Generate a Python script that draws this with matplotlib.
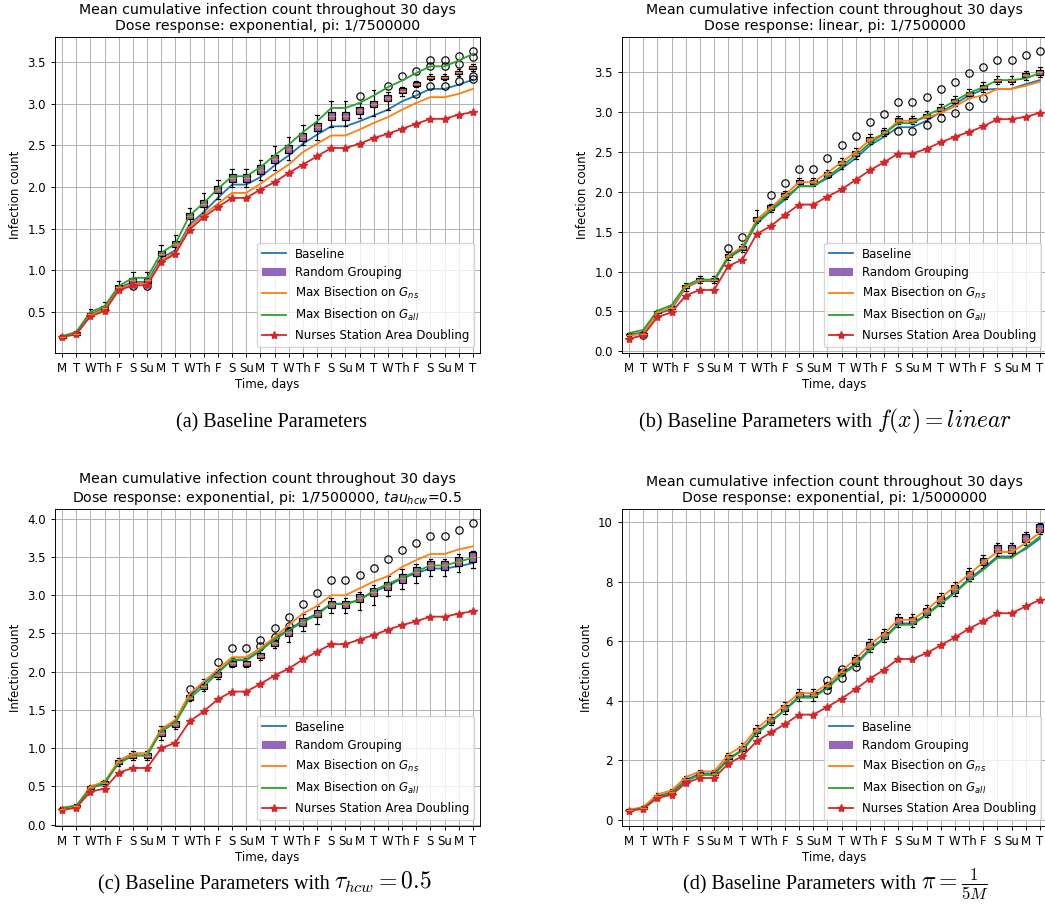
import matplotlib
matplotlib.use("Agg")
import matplotlib.pyplot as plt
from matplotlib.patches import Patch
from matplotlib.lines import Line2D
from matplotlib.font_manager import FontProperties

# x axis: 30 days
day_labels = ["M", "T", "W", "Th", "F", "S", "Su"] * 4 + ["M", "T"]
days = list(range(1, 31))

# ---- panel (a): exponential, pi 1/7500000
a_base = [0.20, 0.25, 0.47, 0.55, 0.79, 0.86, 0.86, 1.15, 1.24, 1.55, 1.70, 1.87, 2.03, 2.03, 2.12,
          2.26, 2.38, 2.52, 2.63, 2.73, 2.73, 2.79, 2.86, 2.93, 3.03, 3.10, 3.18, 3.18, 3.23, 3.29]
a_ns = [0.20, 0.24, 0.46, 0.53, 0.77, 0.84, 0.84, 1.12, 1.22, 1.52, 1.67, 1.80, 1.93, 1.93, 2.04,
        2.16, 2.27, 2.42, 2.52, 2.62, 2.62, 2.69, 2.77, 2.84, 2.93, 3.01, 3.08, 3.08, 3.12, 3.18]
a_all = [0.21, 0.26, 0.50, 0.57, 0.81, 0.91, 0.91, 1.21, 1.32, 1.66, 1.81, 1.98, 2.13, 2.13, 2.24,
         2.38, 2.51, 2.66, 2.79, 2.95, 2.95, 3.01, 3.10, 3.20, 3.28, 3.37, 3.45, 3.45, 3.52, 3.60]
a_nurse = [0.20, 0.23, 0.45, 0.51, 0.76, 0.82, 0.82, 1.10, 1.20, 1.49, 1.64, 1.76, 1.87, 1.87, 1.97,
           2.06, 2.17, 2.27, 2.37, 2.47, 2.47, 2.52, 2.59, 2.64, 2.70, 2.76, 2.82, 2.82, 2.87, 2.90]
a_med = [0.20, 0.24, 0.47, 0.55, 0.80, 0.88, 0.88, 1.20, 1.32, 1.65, 1.80, 1.97, 2.11, 2.11, 2.21,
         2.34, 2.46, 2.60, 2.72, 2.85, 2.85, 2.92, 3.00, 3.07, 3.16, 3.24, 3.32, 3.32, 3.38, 3.44]
a_box = [0.01, 0.015, 0.02, 0.02, 0.03, 0.03, 0.03, 0.03, 0.035, 0.035, 0.04, 0.04, 0.05, 0.05, 0.05,
         0.05, 0.05, 0.05, 0.05, 0.05, 0.05, 0.04, 0.04, 0.035, 0.03, 0.025, 0.02, 0.02, 0.02, 0.02]
a_wlo = [0.18, 0.21, 0.44, 0.50, 0.74, 0.84, 0.84, 1.12, 1.24, 1.55, 1.69, 1.86, 2.00, 2.00, 2.09,
         2.20, 2.32, 2.50, 2.56, 2.72, 2.73, 2.83, 2.85, 2.93, 3.09, 3.20, 3.29, 3.29, 3.34, 3.40]
a_whi = [0.22, 0.27, 0.54, 0.62, 0.87, 0.98, 0.98, 1.30, 1.42, 1.75, 1.93, 2.08, 2.22, 2.22, 2.33,
         2.49, 2.60, 2.75, 2.87, 3.03, 3.03, 3.01, 3.17, 3.14, 3.20, 3.28, 3.36, 3.36, 3.42, 3.48]
a_fliers = {5: [0.81], 6: [0.81], 21: [3.10], 23: [3.22], 24: [3.34], 25: [3.40, 3.12],
            26: [3.53, 3.46, 3.22], 27: [3.53, 3.46, 3.22], 28: [3.58, 3.48, 3.27],
            29: [3.63, 3.56, 3.33, 3.30]}

# ---- panel (b): linear, pi 1/7500000
b_base = [0.21, 0.24, 0.47, 0.53, 0.80, 0.88, 0.88, 1.17, 1.28, 1.60, 1.76, 1.90, 2.07, 2.07, 2.17,
          2.29, 2.42, 2.58, 2.69, 2.81, 2.81, 2.89, 3.00, 3.10, 3.21, 3.28, 3.29, 3.29, 3.35, 3.40]
b_ns = [0.20, 0.22, 0.49, 0.55, 0.81, 0.89, 0.89, 1.20, 1.31, 1.65, 1.80, 1.96, 2.12, 2.12, 2.24,
        2.37, 2.50, 2.65, 2.73, 2.89, 2.89, 2.93, 2.99, 3.07, 3.17, 3.21, 3.29, 3.29, 3.33, 3.38]
b_all = [0.23, 0.27, 0.51, 0.58, 0.83, 0.90, 0.90, 1.18, 1.29, 1.62, 1.77, 1.93, 2.07, 2.07, 2.19,
         2.32, 2.46, 2.61, 2.73, 2.86, 2.86, 2.96, 3.04, 3.14, 3.24, 3.31, 3.40, 3.40, 3.42, 3.49]
b_nurse = [0.16, 0.20, 0.43, 0.49, 0.70, 0.77, 0.77, 1.07, 1.15, 1.47, 1.57, 1.71, 1.84, 1.84, 1.94,
           2.03, 2.15, 2.27, 2.37, 2.48, 2.48, 2.54, 2.62, 2.69, 2.75, 2.82, 2.91, 2.91, 2.94, 2.99]
b_med = [0.21, 0.22, 0.49, 0.55, 0.81, 0.90, 0.90, 1.20, 1.30, 1.66, 1.80, 1.96, 2.12, 2.12, 2.22,
         2.36, 2.48, 2.66, 2.75, 2.90, 2.90, 2.95, 3.04, 3.14, 3.23, 3.31, 3.40, 3.40, 3.46, 3.50]
b_box = [0.01, 0.01, 0.015, 0.015, 0.02, 0.02, 0.02, 0.02, 0.025, 0.03, 0.03, 0.03, 0.025, 0.025, 0.03,
         0.03, 0.03, 0.03, 0.025, 0.025, 0.025, 0.025, 0.025, 0.025, 0.025, 0.025, 0.02, 0.02, 0.025, 0.03]
b_wlo = [0.19, 0.21, 0.46, 0.52, 0.76, 0.86, 0.86, 1.15, 1.25, 1.61, 1.75, 1.91, 2.07, 2.07, 2.17,
         2.29, 2.41, 2.60, 2.70, 2.85, 2.85, 2.89, 2.98, 3.08, 3.17, 3.25, 3.35, 3.35, 3.40, 3.44]
b_whi = [0.23, 0.24, 0.52, 0.58, 0.86, 0.95, 0.95, 1.25, 1.35, 1.77, 1.85, 2.01, 2.17, 2.17, 2.27,
         2.43, 2.55, 2.72, 2.80, 2.95, 2.95, 3.01, 3.10, 3.20, 3.29, 3.37, 3.45, 3.45, 3.52, 3.56]
b_fliers = {1: [0.20], 7: [1.30], 8: [1.43], 10: [1.96], 11: [2.11], 12: [2.29], 13: [2.29],
            14: [2.42], 15: [2.59], 16: [2.70], 17: [2.87], 18: [2.98], 19: [3.13, 2.76],
            20: [3.13, 2.76], 21: [3.19, 2.84], 22: [3.29, 2.92], 23: [3.38, 2.99],
            24: [3.49, 3.08], 25: [3.56, 3.17], 26: [3.65], 27: [3.65], 28: [3.71], 29: [3.76]}

# ---- panel (c): exponential, pi 1/7500000, tau_hcw 0.5
c_base = [0.20, 0.23, 0.48, 0.53, 0.82, 0.93, 0.93, 1.24, 1.36, 1.68, 1.85, 2.00, 2.15, 2.15, 2.27,
          2.44, 2.55, 2.67, 2.76, 2.89, 2.89, 2.94, 3.05, 3.12, 3.22, 3.29, 3.35, 3.35, 3.38, 3.42]
c_ns = [0.21, 0.24, 0.50, 0.56, 0.84, 0.93, 0.93, 1.25, 1.37, 1.71, 1.87, 2.03, 2.19, 2.19, 2.31,
        2.45, 2.61, 2.76, 2.86, 3.00, 3.00, 3.09, 3.18, 3.25, 3.37, 3.46, 3.54, 3.54, 3.60, 3.64]
c_all = [0.22, 0.25, 0.47, 0.55, 0.80, 0.90, 0.90, 1.22, 1.33, 1.65, 1.81, 1.98, 2.16, 2.16, 2.28,
         2.42, 2.54, 2.65, 2.74, 2.89, 2.88, 2.94, 3.06, 3.15, 3.23, 3.31, 3.39, 3.39, 3.44, 3.49]
c_nurse = [0.19, 0.22, 0.43, 0.47, 0.68, 0.74, 0.74, 1.00, 1.07, 1.35, 1.48, 1.64, 1.74, 1.74, 1.84,
           1.95, 2.04, 2.16, 2.26, 2.36, 2.36, 2.42, 2.48, 2.55, 2.61, 2.66, 2.72, 2.72, 2.76, 2.79]
c_med = [0.21, 0.24, 0.49, 0.55, 0.82, 0.90, 0.90, 1.20, 1.31, 1.66, 1.81, 1.96, 2.11, 2.11, 2.21,
         2.37, 2.52, 2.65, 2.76, 2.88, 2.88, 2.96, 3.04, 3.12, 3.22, 3.31, 3.39, 3.39, 3.44, 3.50]
c_box = [0.01, 0.015, 0.02, 0.025, 0.03, 0.03, 0.03, 0.04, 0.04, 0.03, 0.03, 0.03, 0.03, 0.03, 0.03,
         0.04, 0.05, 0.05, 0.05, 0.05, 0.05, 0.05, 0.05, 0.055, 0.055, 0.06, 0.06, 0.06, 0.06, 0.06]
c_wlo = [0.17, 0.21, 0.44, 0.50, 0.77, 0.84, 0.84, 1.10, 1.25, 1.62, 1.75, 1.90, 2.06, 2.06, 2.15,
         2.31, 2.39, 2.53, 2.62, 2.77, 2.77, 2.81, 2.87, 2.99, 3.08, 3.16, 3.25, 3.25, 3.30, 3.36]
c_whi = [0.23, 0.27, 0.52, 0.58, 0.87, 0.96, 0.96, 1.29, 1.42, 1.72, 1.91, 2.03, 2.18, 2.18, 2.28,
         2.43, 2.58, 2.76, 2.86, 2.96, 2.96, 3.04, 3.13, 3.25, 3.35, 3.41, 3.47, 3.47, 3.54, 3.58]
c_fliers = {9: [1.77], 11: [2.13], 12: [2.31], 13: [2.31], 14: [2.42, 2.33], 15: [2.57, 2.46],
            16: [2.72, 2.60], 17: [2.89], 18: [3.03], 19: [3.20], 20: [3.20], 21: [3.27],
            22: [3.36], 23: [3.47], 24: [3.59], 25: [3.68], 26: [3.78], 27: [3.78], 28: [3.85],
            29: [3.94]}

# ---- panel (d): exponential, pi 1/5000000
d_base = [0.32, 0.40, 0.78, 0.92, 1.33, 1.55, 1.55, 2.05, 2.35, 2.95, 3.30, 3.70, 4.15, 4.15, 4.45,
          4.90, 5.25, 5.75, 6.10, 6.60, 6.60, 6.90, 7.30, 7.65, 8.10, 8.45, 8.85, 8.85, 9.10, 9.45]
d_ns = [0.33, 0.42, 0.85, 0.98, 1.43, 1.62, 1.62, 2.18, 2.48, 3.05, 3.45, 3.85, 4.25, 4.25, 4.55,
        5.00, 5.40, 5.90, 6.25, 6.72, 6.72, 7.05, 7.45, 7.85, 8.25, 8.65, 9.00, 9.00, 9.30, 9.65]
d_all = [0.31, 0.38, 0.75, 0.88, 1.30, 1.50, 1.50, 2.02, 2.32, 2.90, 3.28, 3.68, 4.10, 4.10, 4.42,
         4.85, 5.20, 5.70, 6.08, 6.55, 6.55, 6.88, 7.25, 7.62, 8.05, 8.40, 8.80, 8.80, 9.15, 9.52]
d_nurse = [0.30, 0.36, 0.73, 0.83, 1.23, 1.40, 1.40, 1.88, 2.13, 2.63, 2.93, 3.21, 3.53, 3.53, 3.79,
           4.07, 4.39, 4.74, 5.04, 5.40, 5.40, 5.60, 5.86, 6.13, 6.42, 6.67, 6.94, 6.94, 7.17, 7.39]
d_med = [0.32, 0.40, 0.80, 0.92, 1.35, 1.55, 1.55, 2.10, 2.40, 3.00, 3.35, 3.75, 4.20, 4.20, 4.50,
         4.95, 5.35, 5.85, 6.20, 6.70, 6.70, 7.00, 7.40, 7.75, 8.23, 8.68, 9.09, 9.09, 9.48, 9.80]
d_box = [0.02, 0.03, 0.04, 0.05, 0.06, 0.06, 0.06, 0.07, 0.08, 0.08, 0.09, 0.09, 0.09, 0.09, 0.08,
         0.10, 0.11, 0.11, 0.12, 0.12, 0.12, 0.12, 0.13, 0.13, 0.13, 0.13, 0.13, 0.13, 0.13, 0.13]
d_wlo = [0.27, 0.33, 0.70, 0.82, 1.22, 1.43, 1.43, 1.95, 2.22, 2.82, 3.17, 3.55, 4.00, 4.00, 4.40,
         4.82, 5.17, 5.63, 5.98, 6.48, 6.48, 6.80, 7.18, 7.52, 8.02, 8.45, 8.88, 8.88, 9.25, 9.62]
d_whi = [0.37, 0.47, 0.90, 1.02, 1.48, 1.68, 1.68, 2.25, 2.58, 3.18, 3.55, 3.95, 4.40, 4.40, 4.62,
         5.03, 5.55, 6.08, 6.42, 6.92, 6.92, 7.22, 7.62, 7.98, 8.45, 8.90, 9.30, 9.30, 9.68, 9.96]
d_fliers = {14: [4.68, 4.37], 15: [5.06, 4.76], 16: [5.13]}

titles = [
    "Mean cumulative infection count throughout 30 days\nDose response: exponential, pi: 1/7500000",
    "Mean cumulative infection count throughout 30 days\nDose response: linear, pi: 1/7500000",
    "Mean cumulative infection count throughout 30 days\nDose response: exponential, pi: 1/7500000, $tau_{hcw}$=0.5",
    "Mean cumulative infection count throughout 30 days\nDose response: exponential, pi: 1/5000000",
]
# caption = (plain text, maths part)
captions = [
    ("(a) Baseline Parameters", ""),
    ("(b) Baseline Parameters with", "$f(x) = linear$"),
    ("(c) Baseline Parameters with", r"$\tau_{hcw} = 0.5$"),
    ("(d) Baseline Parameters with", r"$\pi = \frac{1}{5M}$"),
]

plt.rcParams['font.size'] = 8.5
plt.rcParams['axes.linewidth'] = 0.68
plt.rcParams['xtick.major.size'] = 3
plt.rcParams['ytick.major.size'] = 3
plt.rcParams['xtick.major.width'] = 0.68
plt.rcParams['ytick.major.width'] = 0.68
plt.rcParams['grid.linewidth'] = 0.68


def draw_panel(ax, title, base, med, box, wlo, whi, fliers, ns, gall, nurse):
    ax.plot(days, base, color='C0', lw=1.3)
    stats = []
    for i in range(30):
        stats.append(dict(med=med[i], q1=med[i] - box[i], q3=med[i] + box[i],
                          whislo=wlo[i], whishi=whi[i], fliers=fliers.get(i, [])))
    ax.bxp(stats, positions=days, widths=0.5, patch_artist=True,
           boxprops=dict(facecolor='tab:purple', edgecolor='k', linewidth=0.85),
           medianprops=dict(color='C1', linewidth=0.85),
           whiskerprops=dict(color='k', linewidth=0.85),
           capprops=dict(color='k', linewidth=0.85),
           flierprops=dict(marker='o', markersize=5.3, markerfacecolor='none',
                           markeredgecolor='k', markeredgewidth=0.85))
    ax.plot(days, ns, color='C1', lw=1.3)
    ax.plot(days, gall, color='C2', lw=1.3)
    ax.plot(days, nurse, color='C3', lw=1.3, marker='*', markersize=6)
    ax.set_xlim(0.5, 30.5)
    ax.set_xticks(days)
    ax.set_xticklabels(day_labels)
    ax.grid(True)
    ax.set_title(title, fontsize=10.2, pad=5)
    ax.set_xlabel("Time, days", labelpad=2)
    ax.set_ylabel("Infection count")
    handles = [Line2D([], [], color='C0', lw=1.3),
               Patch(facecolor='tab:purple'),
               Line2D([], [], color='C1', lw=1.3),
               Line2D([], [], color='C2', lw=1.3),
               Line2D([], [], color='C3', lw=1.3, marker='*', markersize=6)]
    labels = ["Baseline", "Random Grouping", "Max Bisection on $G_{ns}$",
              "Max Bisection on $G_{all}$", "Nurses Station Area Doubling"]
    ax.legend(handles, labels, loc='lower right', fontsize=8.5)


fig = plt.figure(figsize=(10.45, 9.14), dpi=100)
ax_a = fig.add_axes([0.0526, 0.6138, 0.4067, 0.3457])
ax_b = fig.add_axes([0.5952, 0.6138, 0.4067, 0.3457])
ax_c = fig.add_axes([0.0526, 0.0963, 0.4067, 0.3468])
ax_d = fig.add_axes([0.5952, 0.0963, 0.4067, 0.3468])

draw_panel(ax_a, titles[0], a_base, a_med, a_box, a_wlo, a_whi, a_fliers, a_ns, a_all, a_nurse)
draw_panel(ax_b, titles[1], b_base, b_med, b_box, b_wlo, b_whi, b_fliers, b_ns, b_all, b_nurse)
draw_panel(ax_c, titles[2], c_base, c_med, c_box, c_wlo, c_whi, c_fliers, c_ns, c_all, c_nurse)
draw_panel(ax_d, titles[3], d_base, d_med, d_box, d_wlo, d_whi, d_fliers, d_ns, d_all, d_nurse)

# captions: serif text, computer-modern maths a bit larger (as in the LaTeX source)
plt.rcParams['mathtext.fontset'] = 'cm'
text_font = FontProperties(family='Liberation Serif', size=14.5)
math_font = FontProperties(family='Liberation Serif', size=17)
renderer = fig.canvas.get_renderer()
W = fig.bbox.width


def put_caption(cx, y, words, maths):
    t1 = fig.text(0, y, words, fontproperties=text_font, va='baseline', ha='left')
    w1 = t1.get_window_extent(renderer).width
    w2, gap = 0, 0
    t2 = None
    if maths:
        t2 = fig.text(0, y, maths, fontproperties=math_font, va='baseline', ha='left')
        w2 = t2.get_window_extent(renderer).width
        gap = 5
    left = cx * W - (w1 + gap + w2) / 2
    t1.set_x(left / W)
    if t2 is not None:
        t2.set_x((left + w1 + gap) / W)


put_caption(272 / 1045, 1 - 427 / 914, *captions[0])
put_caption(826 / 1045, 1 - 427 / 914, *captions[1])
put_caption(265 / 1045, 1 - 889 / 914, *captions[2])
put_caption(836 / 1045, 1 - 889 / 914, *captions[3])

fig.savefig("out.png", dpi=100)
